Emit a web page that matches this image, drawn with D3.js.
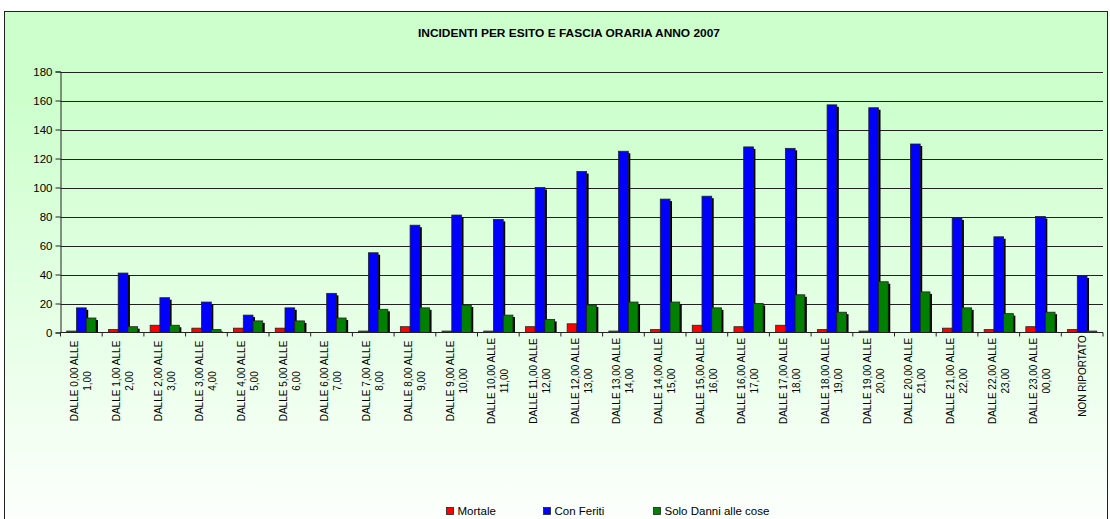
<!DOCTYPE html>
<html>
<head>
<meta charset="utf-8">
<script src="https://cdn.jsdelivr.net/npm/d3@7"></script>
<style>
  html, body { margin: 0; padding: 0; background: #ffffff; }
  svg { display: block; font-family: "Liberation Sans", Arial, sans-serif; }
</style>
</head>
<body>
<svg id="chart" width="1110" height="519"></svg>
<script>
// Hourly time slots (last one: time not reported)
const categories = [
  "DALLE 0,00 ALLE 1,00", "DALLE 1,00 ALLE 2,00", "DALLE 2,00 ALLE 3,00",
  "DALLE 3,00 ALLE 4,00", "DALLE 4,00 ALLE 5,00", "DALLE 5,00 ALLE 6,00",
  "DALLE 6,00 ALLE 7,00", "DALLE 7,00 ALLE 8,00", "DALLE 8,00 ALLE 9,00",
  "DALLE 9,00 ALLE 10,00", "DALLE 10,00 ALLE 11,00", "DALLE 11,00 ALLE 12,00",
  "DALLE 12,00 ALLE 13,00", "DALLE 13,00 ALLE 14,00", "DALLE 14,00 ALLE 15,00",
  "DALLE 15,00 ALLE 16,00", "DALLE 16,00 ALLE 17,00", "DALLE 17,00 ALLE 18,00",
  "DALLE 18,00 ALLE 19,00", "DALLE 19,00 ALLE 20,00", "DALLE 20,00 ALLE 21,00",
  "DALLE 21,00 ALLE 22,00", "DALLE 22,00 ALLE 23,00", "DALLE 23,00 ALLE 00,00",
  "NON RIPORTATO"
];

// Accidents by outcome
const mortale     = [1, 2, 5, 3, 3, 3, 0, 1, 4, 1, 1, 4, 6, 1, 2, 5, 4, 5, 2, 1, 0, 3, 2, 4, 2];
const conFeriti   = [17, 41, 24, 21, 12, 17, 27, 55, 74, 81, 78, 100, 111, 125, 92, 94, 128, 127, 157, 155, 130, 79, 66, 80, 39];
const soloDanni   = [10, 4, 5, 2, 8, 8, 10, 16, 17, 19, 12, 9, 19, 21, 21, 17, 20, 26, 14, 35, 28, 17, 13, 14, 1];

const seriesNames  = ["Mortale", "Con Feriti", "Solo Danni alle cose"];
const seriesColors = ["#ff0000", "#0000ff", "#008000"];
const yTicks = [0, 20, 40, 60, 80, 100, 120, 140, 160, 180];
const title = "INCIDENTI PER ESITO E FASCIA ORARIA ANNO 2007";

const seriesValues = [mortale, conFeriti, soloDanni];

const svg = d3.select("#chart");

// Chart area background: light green fading to almost white
const defs = svg.append("defs");
const grad = defs.append("linearGradient")
  .attr("id", "bg").attr("x1", 0).attr("y1", 0).attr("x2", 0).attr("y2", 1);
grad.append("stop").attr("offset", "0%").attr("stop-color", "#ccffcc");
grad.append("stop").attr("offset", "15%").attr("stop-color", "#ccffcc");
grad.append("stop").attr("offset", "100%").attr("stop-color", "#ffffff");

svg.append("rect")
  .attr("x", 4.5).attr("y", 11.5).attr("width", 1103).attr("height", 530)
  .attr("fill", "url(#bg)").attr("stroke", "#222").attr("stroke-width", 1);

// Plot geometry
const plot = { left: 60.5, right: 1103, top: 71.5, bottom: 332.5 };

const y = d3.scaleLinear().domain([0, 180]).range([plot.bottom, plot.top]);
const x0 = d3.scaleBand().domain(categories).range([plot.left, plot.right])
  .paddingInner(0.3).paddingOuter(0.15);
const x1 = d3.scaleBand().domain(seriesNames).range([0, x0.bandwidth()]);
const xStep = d3.scaleBand().domain(categories).range([plot.left, plot.right]);

// Title
svg.append("text")
  .attr("x", 569).attr("y", 36.5)
  .attr("text-anchor", "middle")
  .attr("font-size", 10).attr("font-weight", "bold")
  .attr("textLength", 302).attr("lengthAdjust", "spacingAndGlyphs")
  .attr("fill", "#000")
  .text(title);

// Horizontal gridlines
svg.append("g").selectAll("line")
  .data(yTicks.filter(d => d > 0))
  .join("line")
  .attr("x1", plot.left).attr("x2", plot.right)
  .attr("y1", d => Math.round(y(d)) + 0.5).attr("y2", d => Math.round(y(d)) + 0.5)
  .attr("stroke", "#222").attr("stroke-width", 1);

// Y axis
const yAxis = d3.axisLeft(y).tickValues(yTicks).tickSize(5).tickPadding(3)
  .tickFormat(d3.format("d"));
const gy = svg.append("g").attr("transform", `translate(${plot.left},0)`).call(yAxis);
gy.select(".domain").attr("stroke", "#222");
gy.selectAll(".tick line").attr("stroke", "#222");
gy.selectAll(".tick text").attr("font-size", 11.5).attr("fill", "#000")
  .attr("font-family", "Liberation Sans, Arial, sans-serif");

// Bars (with dark drop shadow)
const groups = svg.append("g").selectAll("g")
  .data(categories)
  .join("g")
  .attr("transform", d => `translate(${x0(d)},0)`);

const barData = (cat, i) => seriesNames.map((s, k) => ({ s, k, v: seriesValues[k][i] }));

groups.each(function (cat, i) {
  const g = d3.select(this);
  const items = barData(cat, i).filter(d => d.v > 0);
  items.forEach(d => {
    const bx = x1(d.s), bw = x1.bandwidth();
    const top = y(d.v), h = plot.bottom - top;
    g.append("rect")
      .attr("x", bx + 2).attr("y", top + 2)
      .attr("width", bw).attr("height", Math.max(0, h - 2))
      .attr("fill", "#000");
    g.append("rect")
      .attr("x", bx).attr("y", top)
      .attr("width", bw).attr("height", h)
      .attr("fill", seriesColors[d.k])
      .attr("stroke", "#222").attr("stroke-width", 0.8);
  });
});

// X axis (tick marks at category boundaries)
const gx = svg.append("g");
gx.append("line")
  .attr("x1", plot.left).attr("x2", plot.right)
  .attr("y1", plot.bottom).attr("y2", plot.bottom)
  .attr("stroke", "#222");
gx.selectAll("line.tk")
  .data(categories.concat([null]))
  .join("line").attr("class", "tk")
  .attr("x1", (d, i) => i < categories.length ? xStep(d) : plot.right)
  .attr("x2", (d, i) => i < categories.length ? xStep(d) : plot.right)
  .attr("y1", plot.bottom).attr("y2", plot.bottom + 4)
  .attr("stroke", "#222");

// Rotated, two-line category labels
const labels = svg.append("g").selectAll("g")
  .data(categories)
  .join("g")
  .attr("transform", d => {
    const cx = x0(d) + x0.bandwidth() / 2;
    const cy = d.startsWith("DALLE") ? 381 : 376;
    return `translate(${cx},${cy}) rotate(-90)`;
  });

labels.each(function (d) {
  const g = d3.select(this);
  let lines;
  if (d.startsWith("DALLE")) {
    const cut = d.lastIndexOf(" ");
    lines = [d.slice(0, cut), d.slice(cut + 1)];
  } else {
    lines = [d];
  }
  const offs = lines.length === 2 ? [-6.6, 6.4] : [0];
  lines.forEach((t, j) => {
    g.append("text")
      .attr("x", 0).attr("y", offs[j])
      .attr("dy", "0.35em")
      .attr("text-anchor", "middle")
      .attr("font-size", 10)
      .attr("fill", "#000")
      .text(t);
  });
});

// Legend
const legendPos = [446.5, 543.5, 653.5];
const legend = svg.append("g").selectAll("g")
  .data(seriesNames)
  .join("g")
  .attr("transform", (d, i) => `translate(${legendPos[i]},507.5)`);
legend.append("rect")
  .attr("width", 7).attr("height", 7)
  .attr("fill", (d, i) => seriesColors[i])
  .attr("stroke", "#222").attr("stroke-width", 0.8);
legend.append("text")
  .attr("x", 11).attr("y", 3.5).attr("dy", "0.35em")
  .attr("font-size", 11.5).attr("fill", "#000")
  .text(d => d);
</script>
</body>
</html>
